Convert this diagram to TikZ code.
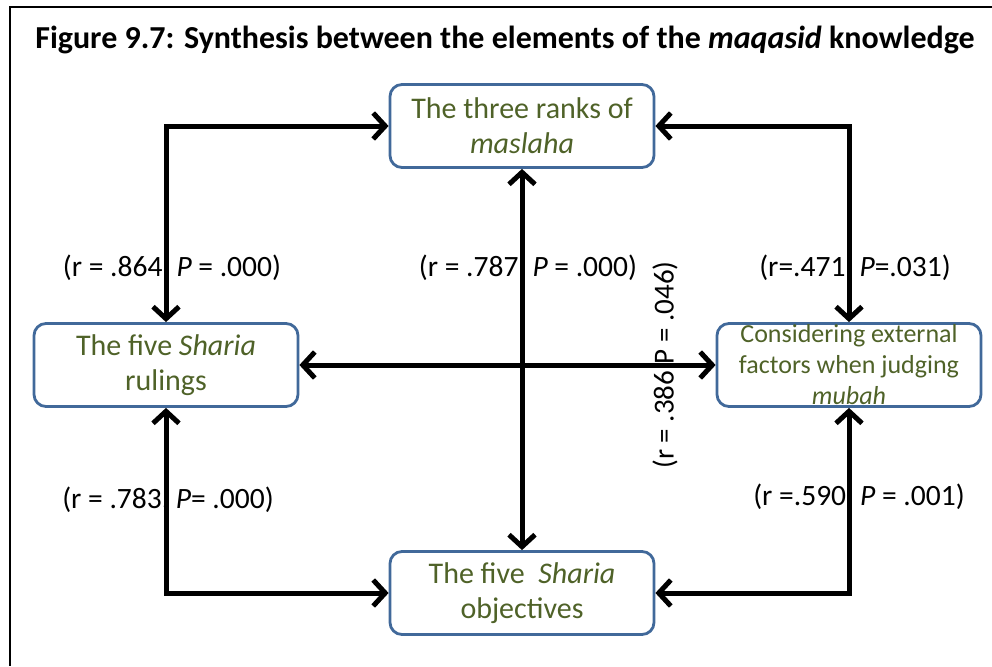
\documentclass[tikz,border=0pt]{standalone}
\usepackage{fontspec}
\setmainfont{Carlito}
\usetikzlibrary{arrows.meta,positioning}
\definecolor{rankgreen}{HTML}{4F6228}
\definecolor{rankblue}{HTML}{41699A}

\begin{document}
\begin{tikzpicture}[
  x=1pt,y=-1pt,
  concept/.style={draw=rankblue,line width=2.8pt,rounded corners=12pt,minimum width=264pt,minimum height=83pt,inner sep=0pt,align=center,text=rankgreen,font=\fontsize{30}{35}\selectfont},
  corr/.style={font=\fontsize{29.5}{35}\selectfont,inner sep=0pt},
  link/.style={{Straight Barb[length=12pt,width=26pt]}-{Straight Barb[length=12pt,width=26pt]},line width=5pt}
]
  \useasboundingbox (0,0) rectangle (992,666);
  % frame, cut by the page edge
  \draw[line width=1.8pt] (992,7) -- (10,7) -- (10,666);

  \node[font=\bfseries\fontsize{32}{38}\selectfont] (title) at (505,40) {Figure 9.7: Synthesis between the elements of the \textit{maqasid} knowledge};

  \node[concept] (maslaha) at (522,126) {The three ranks of\\\textit{maslaha}};
  \node[concept] (rulings) at (166,365) {The five \textit{Sharia}\\rulings};
  \node[concept,font=\fontsize{26}{31}\selectfont] (mubah) at (849,365) {Considering external\\factors when judging\\\textit{mubah}};
  \node[concept] (objectives) at (522,593) {The five \ \textit{Sharia}\\objectives};

  % correlations
  \node[corr] (c1) at (172,268) {(r = .864, \textit{P} = .000)};
  \node[corr] (c2) at (528,268) {(r = .787, \textit{P} = .000)};
  \node[corr] (c3) at (855,268) {(r=.471, \textit{P}=.031)};
  \node[corr] (c4) at (168,500) {(r = .783, \textit{P}= .000)};
  \node[corr] (c5) at (859,497) {(r =.590, \textit{P} = .001)};
  \node[corr,rotate=90,font=\fontsize{29}{34}\selectfont] (c6) at (665,365) {(r = .386 P = .046)};

  \draw[link] (maslaha.west) -| (rulings.north);
  \draw[link] (maslaha.east) -| (mubah.north);
  \draw[link] (maslaha.south) -- (objectives.north);
  \draw[link] (rulings.east) -- (mubah.west);
  \draw[link] (rulings.south) |- (objectives.west);
  \draw[link] (mubah.south) |- (objectives.east);
\end{tikzpicture}
\end{document}
